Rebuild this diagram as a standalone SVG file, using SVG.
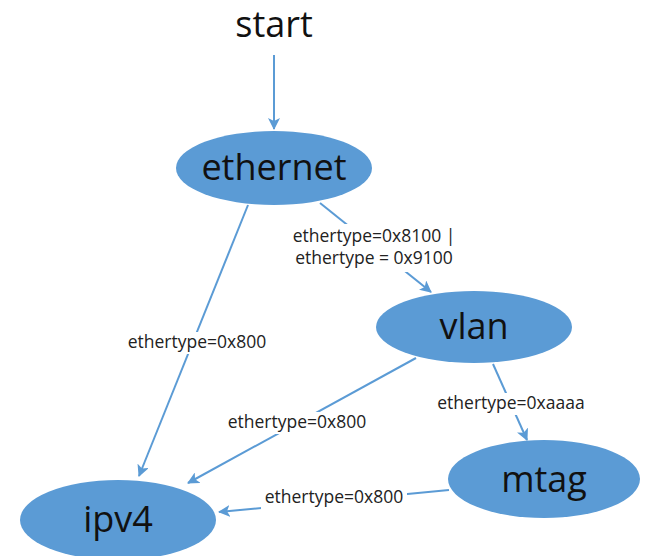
<svg xmlns="http://www.w3.org/2000/svg" width="656" height="556" viewBox="0 0 656 556">
  <defs>
    <marker id="arrow" viewBox="0 0 12 12" refX="11" refY="6" markerWidth="12" markerHeight="12" markerUnits="userSpaceOnUse" orient="auto">
      <path d="M0,0 L12,6 L0,12 L3,6 Z" fill="#5b9bd5"/>
    </marker>
  </defs>
  <style>
    .node { fill: #5b9bd5; }
    .ntext { font-family: "Open Sans", "Liberation Sans", sans-serif; font-size: 36px; fill: #111; text-anchor: middle; }
    .edge { stroke: #5b9bd5; stroke-width: 2; fill: none; marker-end: url(#arrow); }
    .lbl { font-family: "Open Sans", "Liberation Sans", sans-serif; font-size: 17.5px; fill: #222; text-anchor: middle; }
    .lblbg { fill: #ffffff; }
  </style>
  <rect width="656" height="556" fill="#ffffff"/>

  <text x="274" y="37" class="ntext" font-size="33">start</text>

  <g id="connectors">
    <line class="edge" x1="274" y1="55" x2="274" y2="129"/>
    <line class="edge" x1="248" y1="205" x2="139" y2="476"/>
    <line class="edge" x1="320" y1="203" x2="431" y2="292"/>
    <line class="edge" x1="416" y1="358" x2="188" y2="483"/>
    <line class="edge" x1="493" y1="364" x2="527" y2="440"/>
    <line class="edge" x1="449" y1="490" x2="219" y2="512"/>

    <rect class="lblbg" x="124" y="332" width="146" height="22"/>
    <text class="lbl" x="197" y="348">ethertype=0x800</text>

    <rect class="lblbg" x="288" y="224" width="174" height="48"/>
    <text class="lbl" x="374" y="242">ethertype=0x8100 |</text>
    <text class="lbl" x="374" y="264">ethertype = 0x9100</text>

    <rect class="lblbg" x="224" y="412" width="146" height="22"/>
    <text class="lbl" x="297" y="428">ethertype=0x800</text>

    <rect class="lblbg" x="433" y="393" width="156" height="22"/>
    <text class="lbl" x="511" y="409">ethertype=0xaaaa</text>

    <rect class="lblbg" x="261" y="488" width="146" height="21"/>
    <text class="lbl" x="334" y="503">ethertype=0x800</text>
  </g>

  <g id="ethernet">
    <ellipse class="node" cx="274" cy="168" rx="98" ry="37"/>
    <text class="ntext" x="274" y="180">ethernet</text>
  </g>
  <g id="vlan">
    <ellipse class="node" cx="474" cy="327" rx="98" ry="36"/>
    <text class="ntext" x="474" y="339">vlan</text>
  </g>
  <g id="mtag">
    <ellipse class="node" cx="544" cy="479" rx="96" ry="39"/>
    <text class="ntext" x="544" y="492">mtag</text>
  </g>
  <g id="ipv4">
    <ellipse class="node" cx="118" cy="520" rx="98" ry="40"/>
    <text class="ntext" x="118" y="532">ipv4</text>
  </g>
</svg>
